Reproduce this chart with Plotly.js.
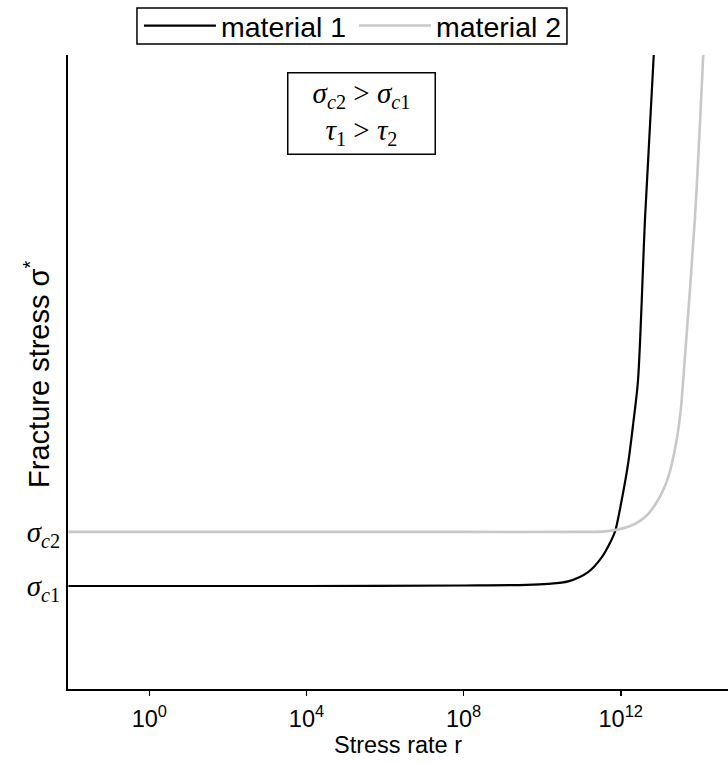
<!DOCTYPE html>
<html>
<head>
<meta charset="utf-8">
<script src="https://cdn.plot.ly/plotly-3.0.1.min.js"></script>
<style>html,body{margin:0;padding:0;background:#fff;}#chart{width:728px;height:763px;}</style>
</head>
<body>
<div id="chart"></div>
<script>
// log10 of stress rate r, and fracture stress (arbitrary units)
var logR1 = [-2.06, 4, 8, 9.6, 10.15, 10.66, 11.17, 11.50, 11.76, 11.86, 12.01, 12.19, 12.32, 12.44, 12.62, 12.84];
var sigma1 = [2.00, 2.00, 2.01, 2.02, 2.04, 2.09, 2.27, 2.54, 2.89, 3.07, 3.61, 4.39, 5.17, 6.00, 9.17, 12.31];
var logR2 = [-2.06, 4, 8, 11.0, 11.60, 12.19, 12.62, 12.95, 13.21, 13.39, 13.52, 13.59, 13.89, 14.10];
var sigma2 = [3.05, 3.05, 3.05, 3.05, 3.06, 3.15, 3.34, 3.67, 4.12, 4.70, 5.36, 6.00, 9.17, 12.31];
var seriesNames = ["material 1", "material 2"];
var xTickVals = [1, 1e4, 1e8, 1e12];
var xTickText = ["10<sup>0</sup>", "10<sup>4</sup>", "10<sup>8</sup>", "10<sup>12</sup>"];
var yTickVals = [2.00, 3.05];
var yTickText = ["<i>σ</i><sub><i>c</i>1</sub>", "<i>σ</i><sub><i>c</i>2</sub>"];

function pow10(a){ return a.map(function(v){ return Math.pow(10, v); }); }

var traces = [
  {x: pow10(logR1), y: sigma1, name: seriesNames[0], mode: "lines", line: {color: "#000000", width: 2.2, shape: "spline", smoothing: 0.8}},
  {x: pow10(logR2), y: sigma2, name: seriesNames[1], mode: "lines", line: {color: "#c8c8c8", width: 2.6, shape: "spline", smoothing: 0.8}}
];

var layout = {
  width: 728, height: 763,
  margin: {l: 68, r: 0, t: 55, b: 74},
  paper_bgcolor: "#fff", plot_bgcolor: "#fff",
  font: {family: "Liberation Sans, Arial, sans-serif", color: "#000", size: 20},
  showlegend: true,
  legend: {
    orientation: "h", x: 0.1075, y: 1.0457, xanchor: "left", yanchor: "middle",
    borderwidth: 0, bgcolor: "rgba(0,0,0,0)",
    font: {size: 28.5, family: "Liberation Sans, Arial, sans-serif"},
    itemwidth: 72, entrywidth: 128, tracegroupgap: 0
  },
  shapes: [
    {type: "rect", xref: "paper", yref: "paper", x0: 0.1045, x1: 0.756, y0: 1.0174, y1: 1.0741,
     line: {color: "#000", width: 1.5}, fillcolor: "rgba(0,0,0,0)", layer: "below"}
  ],
  xaxis: {
    type: "log", range: [-2.07, 14.73],
    tickvals: xTickVals, ticktext: xTickText,
    ticks: "outside", ticklen: 5, tickwidth: 1.5, tickcolor: "#000",
    showline: true, linecolor: "#000", linewidth: 2, mirror: false,
    showgrid: false, zeroline: false,
    tickfont: {size: 23.5}, ticklabelstandoff: 3,
    title: {text: "Stress rate r", font: {size: 23.5}, standoff: 5}
  },
  yaxis: {
    range: [0, 12.31],
    tickvals: yTickVals, ticktext: yTickText,
    ticks: "", ticklen: 0,
    showline: true, linecolor: "#000", linewidth: 2, mirror: false,
    showgrid: false, zeroline: false,
    tickfont: {size: 29, family: "Liberation Serif, Times New Roman, serif"}
  },
  annotations: [
    {
      xref: "paper", yref: "paper", x: 0.445, y: 0.908, xanchor: "center", yanchor: "middle",
      text: "<i>σ</i><sub><i>c</i>2</sub> > <i>σ</i><sub><i>c</i>1</sub><br><i>τ</i><sub>1</sub> > <i>τ</i><sub>2</sub>",
      showarrow: false, align: "center",
      width: 132, height: 66,
      font: {family: "Liberation Serif, Times New Roman, serif", size: 29, color: "#000"},
      bordercolor: "#000", borderwidth: 1.5, borderpad: 7, bgcolor: "#fff"
    },
    {
      xref: "paper", yref: "paper", x: -0.047, y: 0.497, xanchor: "center", yanchor: "middle",
      text: "Fracture stress σ<sup>*</sup>", textangle: -90, showarrow: false,
      font: {family: "Liberation Sans, Arial, sans-serif", size: 29, color: "#000"}
    }
  ]
};

Plotly.newPlot("chart", traces, layout, {displayModeBar: false, staticPlot: true});
</script>
</body>
</html>
